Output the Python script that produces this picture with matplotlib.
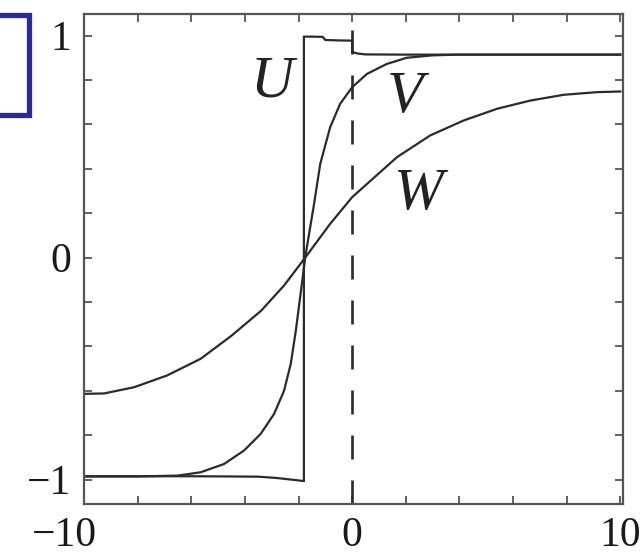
import matplotlib
matplotlib.use('Agg')
from matplotlib import pyplot as plt
from matplotlib.lines import Line2D
from matplotlib.transforms import ScaledTranslation

plt.rcParams['font.family'] = ['Liberation Serif', 'DejaVu Serif']
plt.rcParams['axes.unicode_minus'] = True

# U: step profile with jumps at x = -1.8 and x = 0
U_x = [-10, -6, -4.5, -3.5, -2.8, -2.05, -1.87, -1.8, -1.8, -1.5, -1.1, -1.0, -0.5, 0.0, 0.0, 0.2, 0.5, 2.0, 10]
U_y = [-0.985, -0.985, -0.986, -0.987, -0.993, -1.003, -1.006, -1.006, 0.995, 0.995, 0.994, 0.98, 0.978, 0.977, 0.926, 0.919, 0.915, 0.914, 0.914]

# V: steep front centred near x = -1.75
V_x = [-10, -8, -6.5, -5.65, -4.78, -4.03, -3.41, -2.91, -2.54, -2.29, -2.1, -1.75,
       -1.69, -1.44, -1.19, -0.82, -0.45, 0.0, 0.55, 1.29, 2.04, 3.03, 4.0, 6.0, 10]
V_y = [-0.986, -0.986, -0.982, -0.967, -0.93, -0.869, -0.794, -0.704, -0.6, -0.479, -0.329, 0.0,
       0.046, 0.227, 0.422, 0.587, 0.692, 0.767, 0.827, 0.872, 0.9, 0.911, 0.914, 0.914, 0.914]

# W: slow front
W_x = [-10, -9.25, -8.13, -6.9, -5.65, -4.5, -3.4, -2.54, -1.75, -0.82, 0.0,
       1.67, 2.91, 4.15, 5.4, 6.64, 7.88, 9.13, 10]
W_y = [-0.614, -0.612, -0.584, -0.531, -0.456, -0.352, -0.24, -0.126, 0.0, 0.152, 0.272,
       0.452, 0.55, 0.617, 0.67, 0.707, 0.733, 0.745, 0.748]

x_ticks = [-10, -8, -6, -4, -2, 0, 2, 4, 6, 8, 10]
x_labels = ['\u221210', '', '', '', '', '0', '', '', '', '', '10']
y_ticks = [-1, -0.8, -0.6, -0.4, -0.2, 0, 0.2, 0.4, 0.6, 0.8, 1]
y_labels = ['\u22121', '', '', '', '', '0', '', '', '', '', '1']

curve_names = ['U', 'V', 'W']
name_pos = [(-3.0, 0.79), (1.97, 0.72), (2.45, 0.28)]

fig = plt.figure(figsize=(6.44, 5.54), dpi=100)
ax = fig.add_axes([84 / 644, 1 - 504 / 554, (623 - 84) / 644, (504 - 14) / 554])

line_kw = dict(color='#2b2b2b', lw=1.6, solid_joinstyle='miter')
ax.plot(U_x, U_y, **line_kw)
ax.plot(V_x, V_y, **line_kw)
ax.plot(W_x, W_y, **line_kw)

ax.axvline(0, color='#2b2b2b', lw=1.9, dashes=(17.3 / 1.9, 15.1 / 1.9))

for name, (tx, ty) in zip(curve_names, name_pos):
    ax.text(tx, ty, name, fontsize=43, style='italic', ha='center', va='center', color='#222222')

ax.set_xlim(-10, 10.1)
ax.set_ylim(-1.11, 1.097)

ax.set_xticks(x_ticks)
ax.set_xticklabels(x_labels)
ax.set_yticks(y_ticks)
ax.set_yticklabels(y_labels)
ax.tick_params(direction='in', length=6, width=1.3, color='#555555',
               top=True, right=True, labelsize=30, labelcolor='#1a1a1a')
ax.tick_params(axis='x', pad=9)
ax.tick_params(axis='y', pad=9)

# shift the negative x label left like the source typesetting
xl = ax.get_xticklabels()[0]
xl.set_transform(xl.get_transform() + ScaledTranslation(-0.2, 0, fig.dpi_scale_trans))

for sp in ax.spines.values():
    sp.set_color('#555555')
    sp.set_linewidth(1.6)

# blue bracket at the upper left
bx = [0, 29 / 644, 29 / 644, 0]
by = [1 - 14.5 / 554, 1 - 14.5 / 554, 1 - 115 / 554, 1 - 115 / 554]
fig.add_artist(Line2D(bx, by, transform=fig.transFigure, color='#2a2aa0', lw=3.8,
                      solid_joinstyle='miter'))

fig.savefig('out.png', dpi=100)
